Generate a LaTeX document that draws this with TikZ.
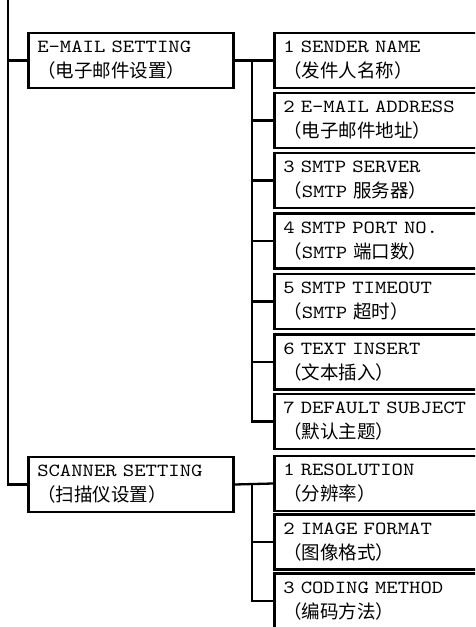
\documentclass[tikz,border=0pt]{standalone}
\usepackage{fontspec}
\setmonofont{lmmono10-regular.otf}[FakeStretch=1.17]
\newfontfamily\cjk{Noto Sans CJK SC}
\usepackage{tikz}
\usetikzlibrary{positioning, calc}
\newcommand{\cn}[1]{{\cjk #1}}

\begin{document}
\begin{tikzpicture}[
    x=1pt, y=-1pt,
    font=\ttfamily\fontsize{18.5pt}{25pt}\selectfont,
    line width=2.3pt,
    menu/.style={rectangle, draw, line width=2.5pt, anchor=west, text width=187pt, minimum height=55pt, inner xsep=9pt, align=left},
    item/.style={menu, text width=212pt}
]
    \clip (0,0) rectangle (475,627);

    % left column
    \coordinate (top) at (8,0);
    \node[menu] (email) at (27,60.5) {E-MAIL SETTING\\\cn{（电子邮件设置）}};
    \node[menu] (scan) at (27,484.5) {SCANNER SETTING\\\cn{（扫描仪设置）}};

    \draw (top) |- (scan.west);
    \draw (email.west) -- (email.west -| top);

    % e-mail items
    \node[item] (e1) at (273,60.5) {1 SENDER NAME\\\cn{（发件人名称）}};
    \node[item] (e2) at (273,120.5) {2 E-MAIL ADDRESS\\\cn{（电子邮件地址）}};
    \node[item] (e3) at (273,180.5) {3 SMTP SERVER\\\cn{（}SMTP \cn{服务器）}};
    \node[item] (e4) at (273,241) {4 SMTP PORT NO.\\\cn{（}SMTP \cn{端口数）}};
    \node[item] (e5) at (273,301.5) {5 SMTP TIMEOUT\\\cn{（}SMTP \cn{超时）}};
    \node[item] (e6) at (273,362) {6 TEXT INSERT\\\cn{（文本插入）}};
    \node[item] (e7) at (273,421.5) {7 DEFAULT SUBJECT\\\cn{（默认主题）}};

    \coordinate (etrunk) at (252,60.5);
    \draw (email.east) -- (e1.west);
    \draw (etrunk) |- (e7.west);
    \foreach \i in {2,...,6}
        \draw (e\i.west) -- (e\i.west -| etrunk);

    % scanner items
    \node[item] (s1) at (273,483.5) {1 RESOLUTION\\\cn{（分辨率）}};
    \node[item] (s2) at (273,542) {2 IMAGE FORMAT\\\cn{（图像格式）}};
    \node[item] (s3) at (273,601) {3 CODING METHOD\\\cn{（编码方法）}};

    \coordinate (strunk) at (252,484.5);
    \draw (scan.east) -- (s1.west);
    \draw (strunk) |- (s3.west);
    \draw (s2.west) -- (s2.west -| strunk);
\end{tikzpicture}
\end{document}
